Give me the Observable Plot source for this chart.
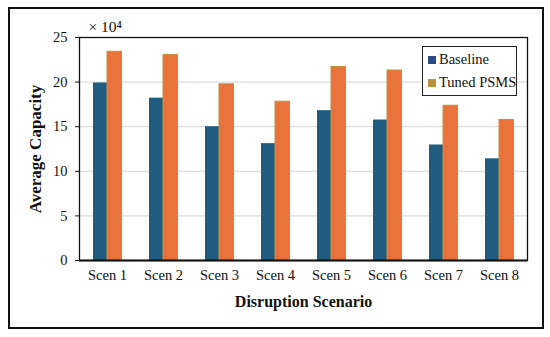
<!DOCTYPE html>
<html>
<head>
<meta charset="utf-8">
<script src="https://cdn.jsdelivr.net/npm/d3@7"></script>
<script src="https://cdn.jsdelivr.net/npm/@observablehq/plot@0.6"></script>
<style>
  body { margin: 0; background: #fff; }
  #wrap { position: relative; width: 550px; height: 337px; font-family: "Liberation Serif", "DejaVu Serif", serif; }
  #border { position: absolute; left: 8px; top: 7px; width: 532px; height: 318px; border: 2px solid #111; box-sizing: content-box; pointer-events: none; }
  #chart { position: absolute; left: 0; top: 0; }
  #legend { position: absolute; left: 422px; top: 46px; width: 93px; height: 48px; border: 1px solid #222; background: #fff; font-size: 14.5px; color: #111; box-sizing: content-box; }
  #legend .item { position: absolute; left: 5px; display: flex; align-items: center; white-space: nowrap; }
  #legend .sw { width: 8px; height: 8px; margin-right: 3px; }
</style>
</head>
<body>
<div id="wrap">
  <div id="chart"></div>
  <div id="border"></div>
  <div id="legend"></div>
</div>
<script>
const scenarios = ["Scen 1", "Scen 2", "Scen 3", "Scen 4", "Scen 5", "Scen 6", "Scen 7", "Scen 8"];
const baseline = [19.9, 18.2, 15.0, 13.1, 16.8, 15.75, 12.95, 11.4];
const tuned = [23.4, 23.05, 19.75, 17.8, 21.7, 21.3, 17.35, 15.75];
const seriesNames = ["Baseline", "Tuned PSMS"];
const seriesColors = ["#1f5c80", "#e8743b"];
const legendColors = ["#2b4a85", "#b8913a"];
const yTicks = [0, 5, 10, 15, 20, 25];
const gridTicks = [5, 10, 15, 20];

const baseRows = scenarios.map((s, i) => ({scen: s, value: baseline[i]}));
const tunedRows = scenarios.map((s, i) => ({scen: s, value: tuned[i]}));

const font = '"Liberation Serif", "DejaVu Serif", serif';

const chart = Plot.plot({
  width: 550,
  height: 337,
  marginLeft: 79,
  marginRight: 23,
  marginTop: 37,
  marginBottom: 77,
  style: {fontFamily: font, fontSize: "14.5px", color: "#111", background: "transparent"},
  x: {domain: scenarios, padding: 0, tickSize: 0, tickPadding: 9, label: null},
  y: {domain: [0, 25], ticks: yTicks, tickSize: 4, tickPadding: 8, label: null, tickFormat: d => String(d)},
  marks: [
    Plot.ruleY(gridTicks, {stroke: "#d4d4d4", strokeWidth: 1}),
    Plot.barY(baseRows, {x: "scen", y: "value", fill: seriesColors[0], insetLeft: 14, insetRight: 28}),
    Plot.barY(tunedRows, {x: "scen", y: "value", fill: seriesColors[1], stroke: "#c68d3c", strokeWidth: 1, insetLeft: 28, insetRight: 13.5}),
    Plot.frame({stroke: "#111", strokeWidth: 1.3}),
    Plot.ruleY([0], {stroke: "#111", strokeWidth: 2}),
    Plot.text(["Average Capacity"], {frameAnchor: "left", textAnchor: "middle", dx: -44, rotate: -90, fontWeight: "bold", fontSize: 17, fill: "#111"}),
    Plot.text(["Disruption Scenario"], {frameAnchor: "bottom", textAnchor: "middle", dy: 46, fontWeight: "bold", fontSize: 16, fill: "#111"}),
    Plot.text(["× 10⁴"], {frameAnchor: "top-left", dx: 9, dy: -17, textAnchor: "start", fontSize: 15.5, fill: "#111"})
  ]
});
document.getElementById("chart").appendChild(chart);

const legend = document.getElementById("legend");
seriesNames.forEach((name, i) => {
  const item = document.createElement("div");
  item.className = "item";
  item.style.top = (i === 0 ? 4 : 27) + "px";
  const sw = document.createElement("span");
  sw.className = "sw";
  sw.style.background = legendColors[i];
  const t = document.createElement("span");
  t.textContent = name;
  item.appendChild(sw);
  item.appendChild(t);
  legend.appendChild(item);
});
</script>
</body>
</html>
